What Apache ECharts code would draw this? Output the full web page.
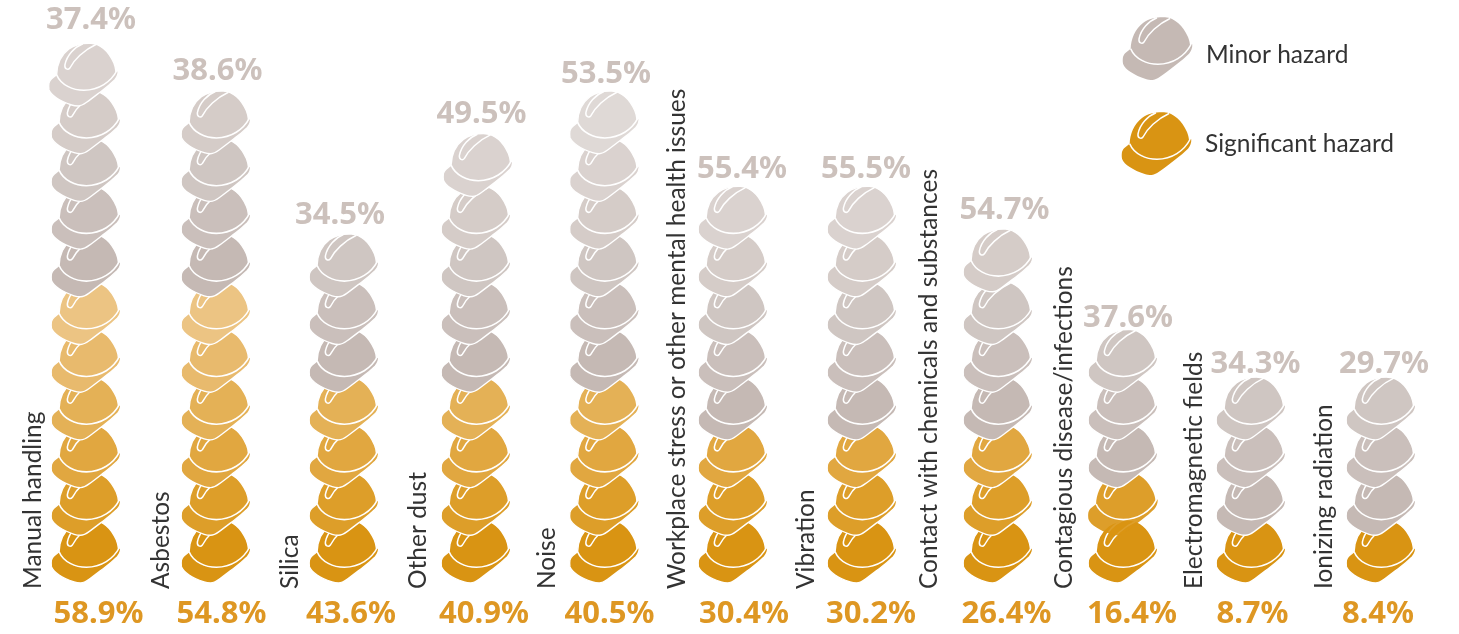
<!DOCTYPE html>
<html>
<head>
<meta charset="utf-8">
<style>html,body{margin:0;padding:0;background:#fff}#c{width:1459px;height:634px}</style>
<script src="https://cdn.jsdelivr.net/npm/echarts@6/dist/echarts.min.js"></script>
</head>
<body>
<div id="c"></div>
<script>
// ---- data ----
const categories = ['Manual handling','Asbestos','Silica','Other dust','Noise','Workplace stress or other mental health issues','Vibration','Contact with chemicals and substances','Contagious disease/infections','Electromagnetic fields','Ionizing radiation'];
const significantValues = [58.9,54.8,43.6,40.9,40.5,30.4,30.2,26.4,16.4,8.7,8.4];
const minorValues = [37.4,38.6,34.5,49.5,53.5,55.4,55.5,54.7,37.6,34.3,29.7];
const significantHelmets = [6,6,4,4,4,3,3,3,2,1,1];
const minorHelmets = [5,4,3,5,6,5,5,4,3,3,3];
const legendNames = ['Minor hazard','Significant hazard'];

// ---- styling and layout ----
const ORANGE = [217,148,19], GREY = [197,185,180];
const ORANGE_FADE = [255,244,243], GREY_FADE = [255,255,255];
const hex = c => 'rgb(' + c.join(',') + ')';
const tint = (c, o, f) => hex(c.map((v, i) => Math.round(v * o + f[i] * (1 - o))));
const columnNudge = [0,.5,-1,1.5,.5,-.5,-1,5.5,1,-.5,0];
const topHelmetNudgeX = [-2.5,0,0,2,0,0,0,0,0,0,0];
const topHelmetNudgeY = [0,0,0,-5,0,0,0,-5,0,0,0];
const bottomLabelNudge = [12.5,6,6,9.5,5.5,10.5,8,14,10,1,-3];
const topLabelNudge = [5,2,-5,7,2,8.5,3,12,6,4,3];
const topLabelBaseline = [36,87,231,130,90,185,185,226,334,380,380];
const nameBaselineX = [46,174,303,431,560,690,819,942,1077,1207,1337];
const legendHelmetXY = [[1123,17],[1122,112]];
const legendTextXY = [[1206,43],[1205,132]];
const HELMET_H = 63, HELMET_CX = 34.6;
const bodyPath = 'M7.7,31.7 C8,22 12,12 20,6 C26,1.5 34,0 42,0.3 C52,1 60,9 65,20 C66.2,23 66.8,25.5 67,28.3 L69.3,27.3 C69.5,31 68,34.5 66,36.7 C62,40.5 58,44 54.3,46.7 C48,51.5 43,55.5 37.7,59.3 C34,62 31.5,63 29.3,63 C27,63 25,62.8 22.7,62 C17,60 12,58 7.7,55 C4,52.5 1,50 0,46.7 C-0.4,44 -0.3,42 0,40 C0.6,38 1.5,36.7 2.7,35.7 Z';
const brimLine = 'M7.7,31.7 C12,42 24,47.3 35,47.3 C50,47 62,39 68,27.5';
const ribLine = 'M34,0.8 C26,4 18,12 16,22 C15.5,26 19,27.5 21,25 C25,17 35,7 47,1.5';

function helmet(x, y, fill, outline, opacity) {
  return { type:'group', x:x, y:y, children:[
    { type:'path', shape:{pathData:bodyPath}, style:{fill:fill, opacity:opacity == null ? 1 : opacity, stroke:outline ? '#fff' : null, lineWidth:outline ? 1.4 : 0} },
    { type:'path', shape:{pathData:brimLine}, style:{fill:null, stroke:'#fff', lineWidth:1.6} },
    { type:'path', shape:{pathData:ribLine}, style:{fill:null, stroke:'#fff', lineWidth:1.5} }
  ]};
}
function helmetData(start, counts) {
  const out = [];
  counts.forEach((n, col) => {
    const base = start ? start[col] : 0;
    for (let k = 0; k < n; k++) out.push([col, base + k, k, k === n - 1 ? 1 : 0]);
  });
  return out;
}
const helmetRender = (color, fade, step, isMinor) => (params, api) => {
  const p = api.coord([api.value(0), api.value(1)]);
  const col = api.value(0), k = api.value(2);
  const isTop = isMinor && api.value(3);
  const x = p[0] + columnNudge[col] + (isTop ? topHelmetNudgeX[col] : 0) - HELMET_CX;
  const y = p[1] - HELMET_H + (isTop ? topHelmetNudgeY[col] : 0);
  // the second helmet of the Contagious column has no white edge in the reference
  if (!isMinor && col === 8 && k === 1) return helmet(x, y, hex(color), false, 0.9);
  return helmet(x, y, tint(color, 1 - k * step, fade), true);
};
const PCT_FONT = '700 31px "Noto Sans"';
const NAME_FONT = '400 24.5px Lato';

const option = {
  animation:false,
  backgroundColor:'#fff',
  grid:{left:21.25, width:1424.5, top:58.3, height:524.7},
  xAxis:{type:'category', data:categories, show:false},
  yAxis:{type:'value', min:0, max:11, show:false},
  tooltip:{show:false},
  series:[
    { name:'Significant hazard', type:'custom', clip:false, silent:true, z:2,
      data:helmetData(null, significantHelmets), renderItem:helmetRender(ORANGE, ORANGE_FADE, 0.1, false) },
    { name:'Minor hazard', type:'custom', clip:false, silent:true, z:3,
      data:helmetData(significantHelmets, minorHelmets), renderItem:helmetRender(GREY, GREY_FADE, 0.09, true) },
    { name:'Labels', type:'custom', clip:false, silent:true, z:4,
      data:categories.map((c, i) => [i, 0]),
      renderItem:(params, api) => {
        const i = api.value(0);
        const p = api.coord([i, 0]);
        return { type:'group', children:[
          { type:'text', x:p[0] + bottomLabelNudge[i], y:630,
            style:{text:significantValues[i] + '%', font:PCT_FONT, fill:'#DE9723', textAlign:'center', verticalAlign:'bottom'} },
          { type:'text', x:p[0] + topLabelNudge[i], y:topLabelBaseline[i],
            style:{text:minorValues[i] + '%', font:PCT_FONT, fill:'#CCC1BC', textAlign:'center', verticalAlign:'bottom'} },
          { type:'text', x:nameBaselineX[i], y:589, rotation:Math.PI / 2,
            style:{text:categories[i], font:NAME_FONT, fill:'#333', textAlign:'left', verticalAlign:'bottom'} }
        ]};
      } },
    { name:'Legend', type:'custom', coordinateSystem:'none', silent:true, z:5,
      data:legendNames.map((n, i) => [i]),
      renderItem:(params, api) => {
        const i = api.value(0);
        return { type:'group', children:[
          helmet(legendHelmetXY[i][0], legendHelmetXY[i][1], hex(i ? ORANGE : GREY), false),
          { type:'text', x:legendTextXY[i][0], y:legendTextXY[i][1],
            style:{text:legendNames[i], font:NAME_FONT, fill:'#333'} }
        ]};
      } }
  ]
};
echarts.init(document.getElementById('c'), null, {renderer:'canvas'}).setOption(option);
</script>
</body>
</html>
